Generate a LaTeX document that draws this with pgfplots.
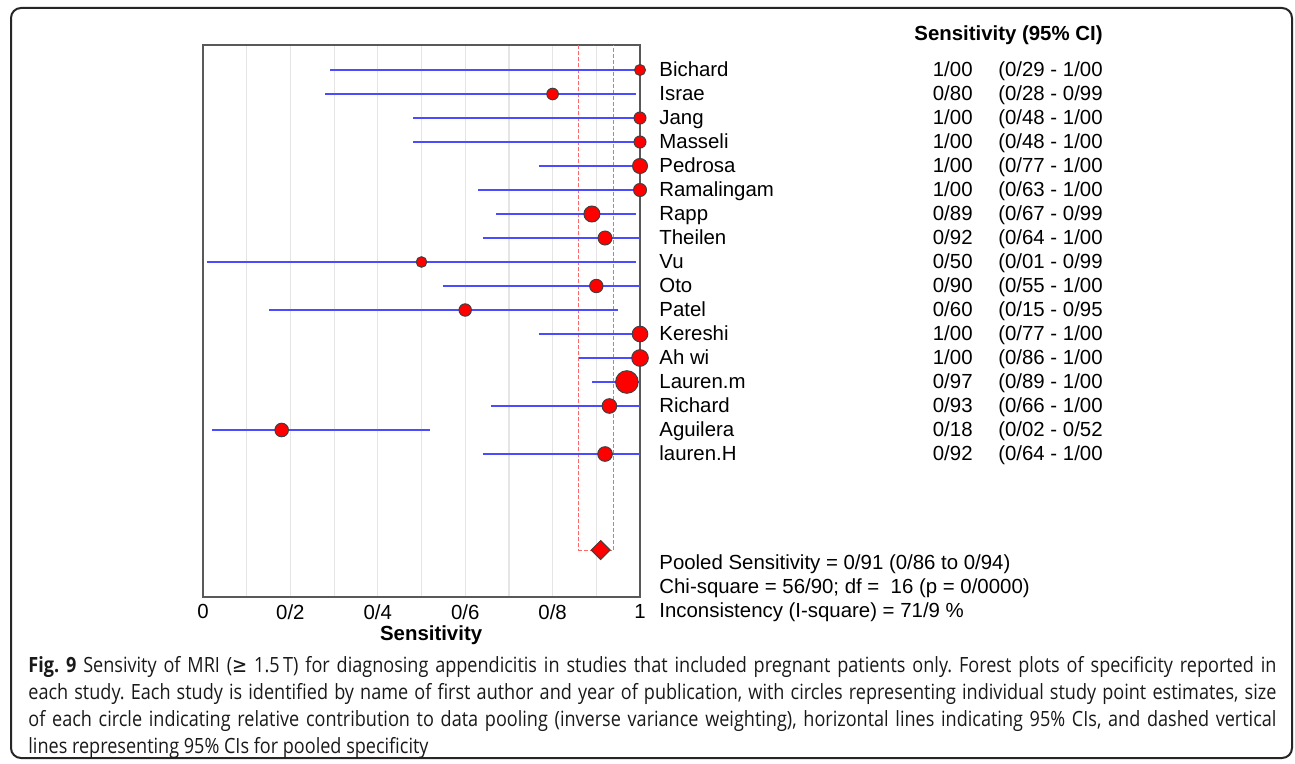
\documentclass[border=0pt]{standalone}
\usepackage{pgfplots}
\usepackage{pgfplotstable}
\pgfplotsset{compat=1.18}
\usepackage{fontspec}
\setmainfont{Liberation Sans}
\newfontfamily\capfont[FakeStretch=0.86]{Open Sans}
\newfontfamily\symfont[FakeStretch=0.86]{DejaVu Sans}
\frenchspacing

% row, estimate, 95% CI, marker radius (pt)
\pgfplotstableread{
y    est   lo    hi    r
-1   1.00  0.29  1.00  2.75
-2   0.80  0.28  0.99  2.9
-3   1.00  0.48  1.00  3.0
-4   1.00  0.48  1.00  3.0
-5   1.00  0.77  1.00  3.75
-6   1.00  0.63  1.00  3.25
-7   0.89  0.67  0.99  4.0
-8   0.92  0.64  1.00  3.5
-9   0.50  0.01  0.99  2.65
-10  0.90  0.55  1.00  3.35
-11  0.60  0.15  0.95  3.1
-12  1.00  0.77  1.00  3.9
-13  1.00  0.86  1.00  4.15
-14  0.97  0.89  1.00  5.65
-15  0.93  0.66  1.00  3.65
-16  0.18  0.02  0.52  3.4
-17  0.92  0.64  1.00  3.65
}\studies

\newcommand{\studyrow}[4]{%
  \node[anchor=base west, inner sep=0] at (axis cs:1.0435,#1) {#2};
  \node[anchor=base east, inner sep=0] at (axis cs:1.762,#1) {#3};
  \node[anchor=base west, inner sep=0] at (axis cs:1.819,#1) {#4};
}

\begin{document}
\begin{tikzpicture}[font=\fontsize{10.2}{12}\selectfont]
\path[use as bounding box] (0,0) rectangle (647.5pt,-382pt);
\draw[line width=1pt, rounded corners=5pt, black!85] (5.5pt,-4pt) rectangle (646pt,-379pt);

\begin{axis}[
  at={(101.5pt,-298.5pt)}, anchor=south west,
  scale only axis, width=218.5pt, height=276pt,
  xmin=0, xmax=1, ymin=-22.958, ymax=0.0417,
  xtick={0,0.2,0.4,0.6,0.8,1},
  xticklabels={0,0/2,0/4,0/6,0/8,1},
  minor xtick={0.1,0.3,0.5,0.7,0.9},
  ytick=\empty,
  xmajorgrids, xminorgrids,
  major grid style={black!10, line width=0.6pt},
  minor grid style={black!10, line width=0.6pt},
  major tick length=0pt, minor tick length=0pt,
  axis line style={black!65, line width=0.7pt},
  tick label style={font=\fontsize{10.2}{12}\selectfont},
  xticklabel style={inner sep=0pt, yshift=-3.5pt},
  xlabel={\textbf{Sensitivity}},
  xlabel style={at={(axis description cs:0.522,0)}, anchor=base, yshift=-21.5pt, inner sep=0pt, font=\fontsize{10.2}{12}\selectfont},
  clip=false,
]
% pooled CI band
\addplot[red!60, line width=0.5pt, dash pattern=on 2pt off 1pt]
  coordinates {(0.86,0.0417) (0.86,-21) (0.94,-21) (0.94,0.0417)};

% study CIs
\addplot[only marks, mark=none,
  error bars/.cd, x dir=both, x explicit, error mark=none,
  error bar style={draw=blue!70!white, line width=0.7pt}]
  table[x=est, y=y,
        x error minus expr=\thisrow{est}-\thisrow{lo},
        x error plus expr=\thisrow{hi}-\thisrow{est}] {\studies};

% study estimates
\addplot[scatter, only marks, mark=*,
  scatter/use mapped color={draw=black!75, fill=red},
  mark options={line width=0.5pt},
  visualization depends on={\thisrow{r}\as\rad},
  scatter/@pre marker code/.append style={/tikz/mark size=\rad}]
  table[x=est, y=y] {\studies};

% pooled estimate
\addplot[only marks, mark=square*, mark size=3.35pt,
  mark options={rotate=45, fill=red, draw=black!75, line width=0.5pt}]
  coordinates {(0.91,-21)};

\node[anchor=base east, inner sep=0] at (axis cs:2.0595,0.22) {\textbf{Sensitivity (95\% CI)}};
\studyrow{-1.29}{Bichard}{1/00}{(0/29 - 1/00}
\studyrow{-2.29}{Israe}{0/80}{(0/28 - 0/99}
\studyrow{-3.29}{Jang}{1/00}{(0/48 - 1/00}
\studyrow{-4.29}{Masseli}{1/00}{(0/48 - 1/00}
\studyrow{-5.29}{Pedrosa}{1/00}{(0/77 - 1/00}
\studyrow{-6.29}{Ramalingam}{1/00}{(0/63 - 1/00}
\studyrow{-7.29}{Rapp}{0/89}{(0/67 - 0/99}
\studyrow{-8.29}{Theilen}{0/92}{(0/64 - 1/00}
\studyrow{-9.29}{Vu}{0/50}{(0/01 - 0/99}
\studyrow{-10.29}{Oto}{0/90}{(0/55 - 1/00}
\studyrow{-11.29}{Patel}{0/60}{(0/15 - 0/95}
\studyrow{-12.29}{Kereshi}{1/00}{(0/77 - 1/00}
\studyrow{-13.29}{Ah wi}{1/00}{(0/86 - 1/00}
\studyrow{-14.29}{Lauren.m}{0/97}{(0/89 - 1/00}
\studyrow{-15.29}{Richard}{0/93}{(0/66 - 1/00}
\studyrow{-16.29}{Aguilera}{0/18}{(0/02 - 0/52}
\studyrow{-17.29}{lauren.H}{0/92}{(0/64 - 1/00}

\node[anchor=base west, inner sep=0] at (axis cs:1.0435,-21.8) {Pooled Sensitivity = 0/91 (0/86 to 0/94)};
\node[anchor=base west, inner sep=0] at (axis cs:1.0435,-22.8) {Chi-square = 56/90; df =\ \ 16 (p = 0/0000)};
\node[anchor=base west, inner sep=0] at (axis cs:1.0435,-23.8) {Inconsistency (I-square) = 71/9 \%};
\end{axis}

\node[anchor=base west, inner sep=0, text width=624pt, align=justify,
  font=\capfont\fontsize{10.5}{13.5}\selectfont, text=black!90] at (14pt,-336pt)
  {\textbf{Fig. 9} Sensivity of MRI ({\symfont ≥}~1.5\,T) for diagnosing appendicitis in studies that included pregnant patients only. Forest plots of specificity reported in\linebreak
  each study. Each study is identified by name of first author and year of publication, with circles representing individual study point estimates, size\linebreak
  of each circle indicating relative contribution to data pooling (inverse variance weighting), horizontal lines indicating 95\% CIs, and dashed vertical\linebreak
  lines representing 95\% CIs for pooled specificity};
\end{tikzpicture}
\end{document}
